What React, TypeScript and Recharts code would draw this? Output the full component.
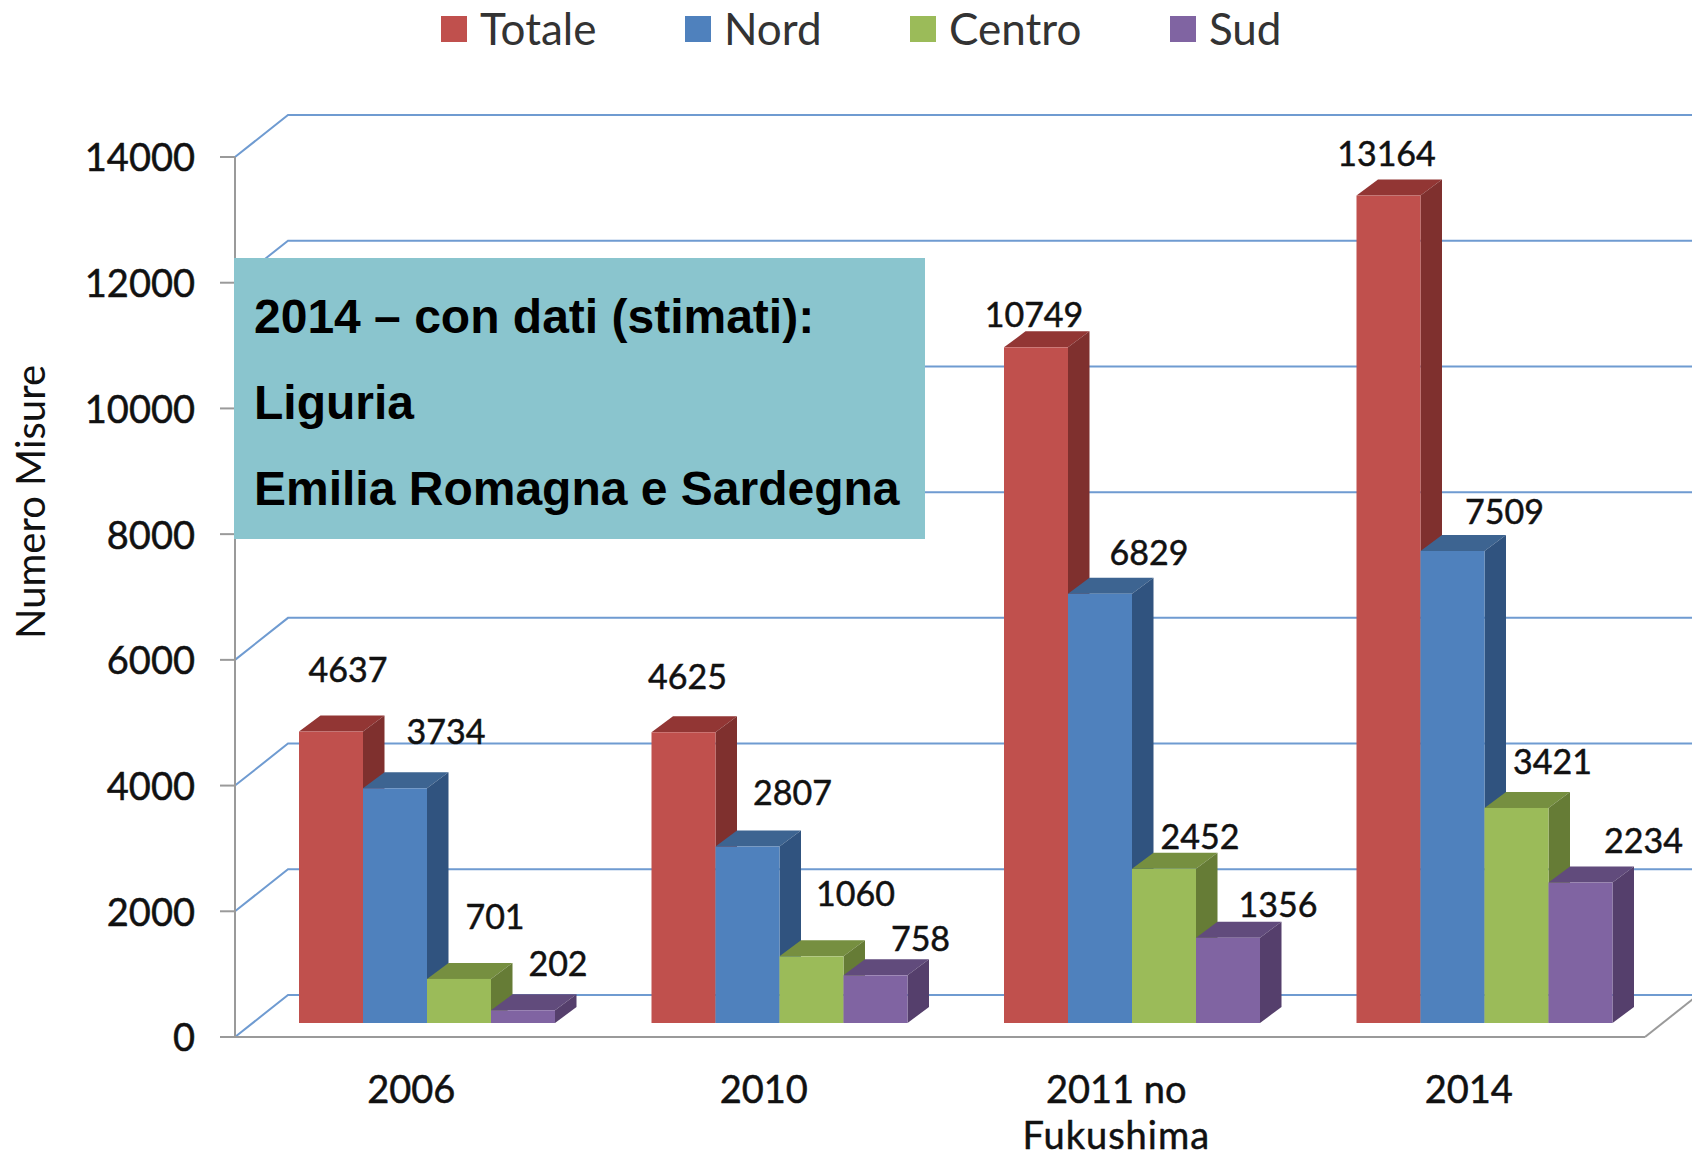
import React from 'react';
import { BarChart, Bar, XAxis, YAxis, CartesianGrid, Legend, LabelList, Label } from 'recharts';

const categories = ['2006', '2010', '2011 no\nFukushima', '2014'];
const totale = [4637, 4625, 10749, 13164];
const nord = [3734, 2807, 6829, 7509];
const centro = [701, 1060, 2452, 3421];
const sud = [202, 758, 1356, 2234];
const yTicks = [0, 2000, 4000, 6000, 8000, 10000, 12000, 14000];

const data = categories.map((name, i) => ({
  name,
  Totale: totale[i],
  Nord: nord[i],
  Centro: centro[i],
  Sud: sud[i],
}));

const FONT = 'Lato, sans-serif';
const INK = '#111';
const AXIS_GREY = '#9a9a9a';
const GRID_BLUE = '#6f9bd1';

// fake 3d: the wall sits up and right of the axes, the bars stand between the two
const WALL_DX = 53;
const WALL_DY = 42;
const BAR_SHIFT_X = 15.5;
const BAR_SHIFT_Y = -14;
const DEPTH_X = 21.5;
const DEPTH_Y = 16;
const PLOT_BOTTOM = 1037;

const series = [
  { key: 'Totale', fill: '#c0504d', top: '#923634', side: '#7f302e' },
  { key: 'Nord', fill: '#4f81bd', top: '#3d6491', side: '#30537f' },
  { key: 'Centro', fill: '#9bbb59', top: '#768f40', side: '#667c36' },
  { key: 'Sud', fill: '#8064a2', top: '#614b7c', side: '#553f6c' },
];

// hand placed data labels, from the centre of the top edge of each bar
const labelShift: Record<string, number[][]> = {
  Totale: [[17, -63], [4, -57], [-2, -34], [-2, -43]],
  Nord: [[51, -58], [45, -55], [49, -42], [52, -41]],
  Centro: [[36, -63], [44, -64], [36, -33], [36, -47]],
  Sud: [[35, -48], [45, -38], [50, -34], [63, -43]],
};

function Cuboid({ x, y, width, height, fill, top, side }: any) {
  const l = x + BAR_SHIFT_X;
  const t = y + BAR_SHIFT_Y;
  const r = l + width;
  const b = t + height;
  return (
    <g>
      <polygon
        points={`${l},${t} ${l + DEPTH_X},${t - DEPTH_Y} ${r + DEPTH_X},${t - DEPTH_Y} ${r},${t}`}
        fill={top}
      />
      <polygon
        points={`${r},${t} ${r + DEPTH_X},${t - DEPTH_Y} ${r + DEPTH_X},${b - DEPTH_Y} ${r},${b}`}
        fill={side}
      />
      <rect x={l} y={t} width={width} height={height} fill={fill} />
    </g>
  );
}

function GridLine({ x1, y1, x2 }: any) {
  const isFloor = y1 >= PLOT_BOTTOM - 1;
  return (
    <g key={y1}>
      <polyline
        points={`${x1},${y1} ${x1 + WALL_DX},${y1 - WALL_DY} ${x2 + WALL_DX},${y1 - WALL_DY}`}
        fill="none"
        stroke={GRID_BLUE}
        strokeWidth={2}
      />
      {isFloor && (
        <line x1={x2} y1={y1} x2={x2 + WALL_DX} y2={y1 - WALL_DY} stroke={AXIS_GREY} strokeWidth={2} />
      )}
    </g>
  );
}

function CategoryTick({ x, y, payload }: any) {
  const lines = String(payload.value).split('\n');
  return (
    <text
      x={x}
      y={y + 30}
      textAnchor="middle"
      fontFamily={FONT}
      fontSize={38}
      fill={INK}
      stroke={INK}
      strokeWidth={0.5}
    >
      {lines.map((line, i) => (
        <tspan key={line} x={x} dy={i === 0 ? 0 : 46} letterSpacing={i === 0 ? 0 : 1}>
          {line}
        </tspan>
      ))}
    </text>
  );
}

function LegendRow({ payload }: any) {
  return (
    <div style={{ display: 'flex', gap: 88.5, fontFamily: FONT, fontSize: 44, color: '#333', lineHeight: '60px' }}>
      {(payload || []).map((item: any) => (
        <div key={item.value} style={{ display: 'flex', alignItems: 'center', gap: 13 }}>
          <span style={{ width: 26, height: 26, background: item.color, display: 'block', marginTop: 2 }} />
          <span>{item.value}</span>
        </div>
      ))}
    </div>
  );
}

function makeLabel(key: string) {
  return ({ x, y, width, value, index }: any) => {
    const [dx, dy] = labelShift[key][index];
    return (
      <text
        x={x + BAR_SHIFT_X + width / 2 + dx}
        y={y + BAR_SHIFT_Y + dy}
        textAnchor="middle"
        dominantBaseline="central"
        fontFamily={FONT}
        fontSize={34}
        fill={INK}
        stroke={INK}
        strokeWidth={0.5}
      >
        {value}
      </text>
    );
  };
}

export default function App() {
  return (
    <div style={{ position: 'absolute', left: 0, top: 0, width: 1692, height: 1158, background: '#fff', overflow: 'hidden' }}>
      <BarChart
        width={1692}
        height={1158}
        data={data}
        margin={{ top: 157, right: 47, bottom: 0, left: 0 }}
        barCategoryGap={48.5}
        barGap={0}
      >
        <CartesianGrid vertical={false} horizontal={GridLine as any} />
        <XAxis
          dataKey="name"
          height={121}
          interval={0}
          tickLine={false}
          tickMargin={30}
          tick={CategoryTick as any}
          axisLine={{ stroke: AXIS_GREY, strokeWidth: 2 }}
        />
        <YAxis
          width={235}
          domain={[0, 14000]}
          ticks={yTicks}
          interval={0}
          tickSize={15}
          tickMargin={25}
          axisLine={{ stroke: AXIS_GREY, strokeWidth: 2 }}
          tickLine={{ stroke: AXIS_GREY, strokeWidth: 2 }}
          tick={{ fontFamily: FONT, fontSize: 38, fill: INK, stroke: INK, strokeWidth: 0.5, dy: 1 }}
        >
          <Label
            content={() => (
              <text
                transform="translate(30,502) rotate(-90)"
                textAnchor="middle"
                dominantBaseline="central"
                fontFamily={FONT}
                fontSize={40}
                fill={INK}
              >
                Numero Misure
              </text>
            )}
          />
        </YAxis>
        <Legend
          layout="horizontal"
          verticalAlign="middle"
          align="center"
          itemSorter={null}
          content={LegendRow as any}
          wrapperStyle={{ top: -2, left: 441, width: 'auto' }}
        />
        {series.map((s) => (
          <Bar
            key={s.key}
            dataKey={s.key}
            fill={s.fill}
            isAnimationActive={false}
            shape={(props: any) => <Cuboid {...props} top={s.top} side={s.side} />}
          >
            <LabelList dataKey={s.key} content={makeLabel(s.key) as any} />
          </Bar>
        ))}
      </BarChart>
      <div
        style={{
          position: 'absolute',
          left: 234,
          top: 258,
          width: 691,
          height: 281,
          background: '#8ac5ce',
          fontFamily: '"Liberation Sans", Arial, sans-serif',
          fontWeight: 700,
          fontSize: 48,
          lineHeight: '86px',
          color: '#000',
          paddingLeft: 20,
          paddingTop: 16,
          boxSizing: 'border-box',
        }}
      >
        <div>2014 – con dati (stimati):</div>
        <div>Liguria</div>
        <div>Emilia Romagna e Sardegna</div>
      </div>
    </div>
  );
}
